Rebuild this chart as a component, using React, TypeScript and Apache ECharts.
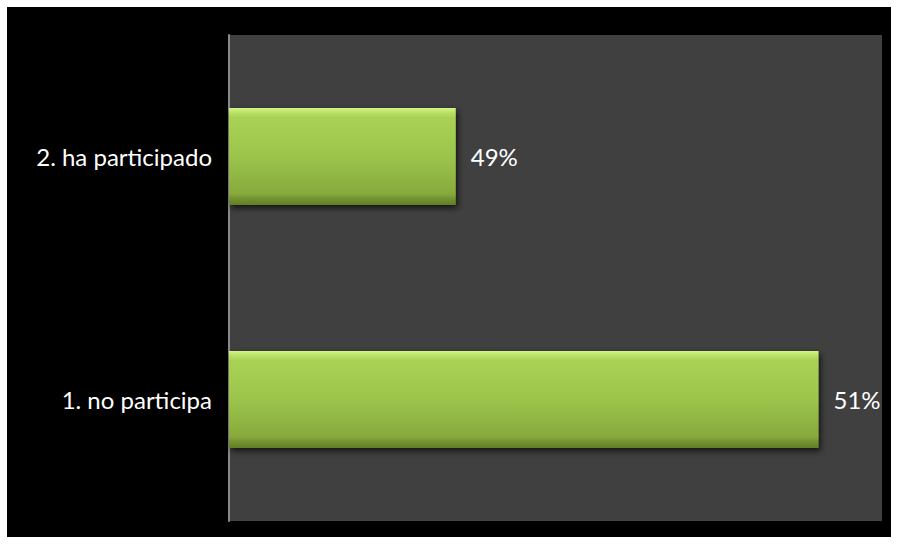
import React, { useEffect, useRef } from "react";
import * as echarts from "echarts";

const categories = ["1. no participa", "2. ha participado"];
const values = [51, 49];

export default function App() {
  const ref = useRef<HTMLDivElement>(null);
  useEffect(() => {
    if (!ref.current) return;
    const chart = echarts.init(ref.current, undefined, { renderer: "svg" });
    chart.setOption({
      animation: false,
      backgroundColor: "#ffffff",
      graphic: [
        {
          type: "rect",
          z: -10,
          shape: { x: 7, y: 7, width: 884, height: 530 },
          style: { fill: "#000000" },
        },
      ],
      grid: {
        left: 229,
        right: 17,
        top: 35,
        bottom: 23,
        show: true,
        backgroundColor: "#404040",
        borderWidth: 0,
      },
      xAxis: {
        type: "value",
        min: 47.75,
        max: 51.35,
        show: false,
        splitLine: { show: false },
      },
      yAxis: {
        type: "category",
        data: categories,
        axisLine: { show: true, lineStyle: { color: "#8a8a8a", width: 2 } },
        axisTick: { show: false },
        axisLabel: {
          color: "#ffffff",
          fontSize: 24,
          fontFamily: "Lato",
          margin: 17,
        },
      },
      series: [
        {
          type: "bar",
          data: values,
          barCategoryGap: "60%",
          itemStyle: {
            color: new echarts.graphic.LinearGradient(0, 0, 0, 1, [
              { offset: 0, color: "#d4f685" },
              { offset: 0.05, color: "#b9e066" },
              { offset: 0.1, color: "#a9d254" },
              { offset: 0.5, color: "#9cc44b" },
              { offset: 0.88, color: "#88aa3d" },
              { offset: 0.93, color: "#739430" },
              { offset: 1, color: "#617e25" },
            ]),
            shadowColor: "rgba(0,0,0,0.7)",
            shadowBlur: 6,
            shadowOffsetX: 2,
            shadowOffsetY: 3,
          },
          label: {
            show: true,
            position: "right",
            distance: 15,
            color: "#ffffff",
            fontSize: 24,
            fontFamily: "Lato",
            formatter: (p: any) => `${p.value}%`,
          },
        },
      ],
    });
    return () => chart.dispose();
  }, []);
  return (
    <div
      ref={ref}
      style={{ position: "absolute", left: 0, top: 0, width: 899, height: 544 }}
    />
  );
}
